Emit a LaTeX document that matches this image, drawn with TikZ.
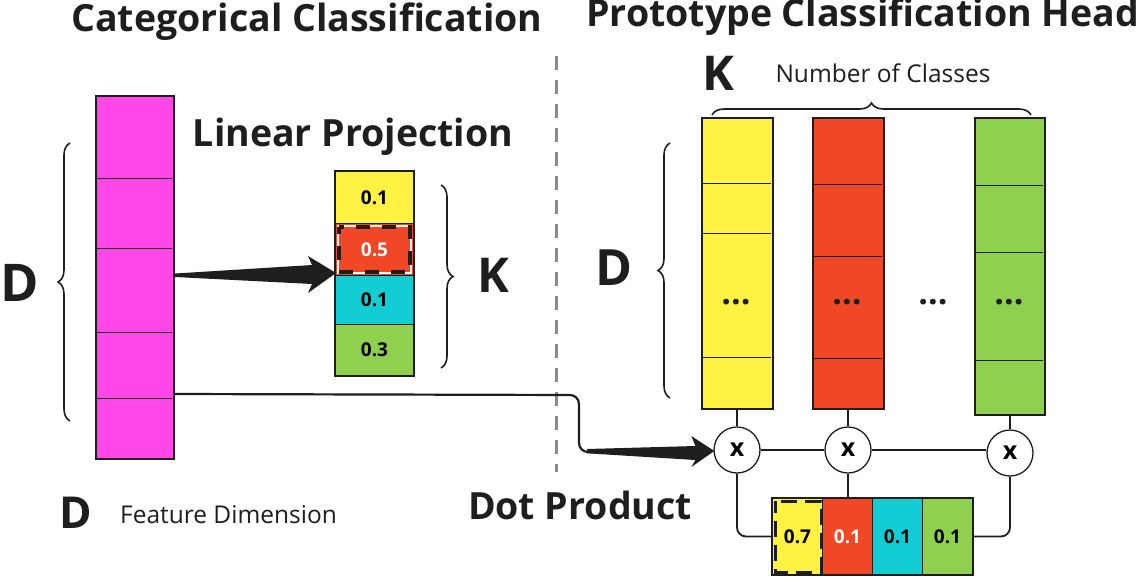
\documentclass[tikz,border=0pt]{standalone}
\usepackage{fontspec}
\setmainfont{Open Sans}
\usetikzlibrary{arrows.meta,calc,decorations.pathreplacing}
\definecolor{ink}{HTML}{1E1E1E}
\definecolor{csep}{HTML}{8A8A8A}
\definecolor{cmag}{HTML}{FF46E6}
\definecolor{cyel}{HTML}{FFF242}
\definecolor{cred}{HTML}{F04827}
\definecolor{ccyan}{HTML}{12CDD4}
\definecolor{cgreen}{HTML}{8FD14F}
\tikzset{
  col/.style={draw=ink, line width=2.2pt, inner sep=0pt, anchor=north west},
  divider/.style={draw=ink, line width=1pt},
  cell/.style={draw=ink, line width=1pt, inner sep=0pt, minimum width=#1, font=\bfseries\fontsize{19}{19}\selectfont},
  conn/.style={draw=ink, line width=2.2pt},
  mult/.style={circle, draw=ink, line width=1.3pt, fill=white, minimum size=46pt, inner sep=0pt, font=\bfseries\fontsize{25}{25}\selectfont},
  title/.style={font=\bfseries\fontsize{37.5}{44}\selectfont, text=ink, inner sep=0pt},
  big/.style={font=\bfseries\fontsize{#1}{#1}\selectfont, text=ink, inner sep=0pt},
  small/.style={font=\fontsize{24.5}{28}\selectfont, text=ink, inner sep=0pt},
  brc/.style={draw=ink, line width=1.6pt, decorate, decoration={brace, amplitude=12pt}},
  dots/.style={font=\bfseries\fontsize{34}{34}\selectfont, text=ink, inner sep=0pt},
}
\begin{document}
\begin{tikzpicture}[x=1pt,y=-1pt]
\useasboundingbox (0,0) rectangle (1137,576);

% titles
\node[title] (t1) at (307,22) {Categorical Classification};
\node[title, anchor=west] (t2) at (586,17) {Prototype Classification Head};
\node[title] (t3) at (353,137) {Linear Projection};
\node[title] (t4) at (580,505) {Dot Product};

% separator
\draw[draw=csep, line width=3pt, dash pattern=on 14pt off 10pt] (556,56) -- (556,472);

% magenta feature vector
\node[col, fill=cmag, minimum width=78pt, minimum height=363pt] (mag) at (95,95) {};
\foreach \yy in {178,248,332,398} \draw[divider] (96,\yy) -- (172,\yy);
\draw[brc] (70,421) -- (70,143);
\node[big=52, anchor=west] (Dl) at (0,283) {D};

% linear projection stack
\node[cell=78pt, fill=cyel, minimum height=52pt, anchor=north west] (p1) at (335,171) {0.1};
\node[cell=78pt, fill=cred, minimum height=52pt, anchor=north west, text=white] (p2) at (335,223) {0.5};
\node[cell=78pt, fill=ccyan, minimum height=49pt, anchor=north west] (p3) at (335,275) {0.1};
\node[cell=78pt, fill=cgreen, minimum height=51pt, anchor=north west] (p4) at (335,324) {0.3};
\draw[white, line width=1.5pt] ([shift={(3,3)}]p2.north west) rectangle ([shift={(-3,-3)}]p2.south east);
\draw[ink, line width=4pt, dash pattern=on 14pt off 12pt, dash phase=7pt] ([shift={(4,4)}]p2.north west) rectangle ([shift={(-4,-4)}]p2.south east);
\draw[ink, line width=2.2pt] (p1.north west) rectangle (p4.south east);
\draw[brc] (441,185) -- (441,368);
\node[big=48] (Kl) at (493,275) {K};

% projection arrow (tapered)
\coordinate (a0) at ($(mag.north east)+(0,180)$);
\coordinate (a1) at ($(p3.north west)+(1,-2)$);
\fill[ink] ($(a0)+(0,-1.5)$) -- ($(a1)+(-24,-8)$) -- ($(a1)+(-28,-17)$) -- (a1)
  -- ($(a1)+(-28,20)$) -- ($(a1)+(-24,11)$) -- ($(a0)+(0,2)$) -- cycle;

% prototype columns
\node[col, fill=cyel, minimum width=71pt, minimum height=291pt] (cy) at (701,117) {};
\foreach \yy in {183,233,357} \draw[divider] (702,\yy) -- (771,\yy);
\node[col, fill=cred, minimum width=71pt, minimum height=291pt] (cr) at (812,117) {};
\foreach \yy in {184,256,358} \draw[divider] (813,\yy) -- (882,\yy);
\node[col, fill=cgreen, minimum width=70pt, minimum height=297pt] (cg) at (974,117) {};
\foreach \yy in {185,252,360} \draw[divider] (975,\yy) -- (1043,\yy);
\node[dots] (d1) at (736,302) {...};
\node[dots] (d2) at (847,302) {...};
\node[dots] (d3) at (933,302) {...};
\node[dots] (d4) at (1009,302) {...};
\draw[brc] (712,115) -- (1031,115);
\node[big=48] (Kt) at (718,73) {K};
\node[small] (ncl) at (883,73) {Number of Classes};
\draw[brc] (670,398) -- (670,143);
\node[big=50] (Dr) at (614,268) {D};

% multiply nodes
\node[mult] (m1) at (737,450) {x};
\node[mult] (m2) at (848,450) {x};
\node[mult] (m3) at (1010,453) {x};
\draw[conn, line width=1.8pt] (cy.south -| m1) -- (m1.north);
\draw[conn, line width=1.8pt] (cr.south -| m2) -- (m2.north);
\draw[conn, line width=1.8pt] (cg.south -| m3) -- (m3.north);
\draw[conn, line width=1.8pt] (m1.east) -- (m2.west);
\draw[conn, line width=1.8pt] (m2.east) -- (m3.west |- m2.east);

% result
\node[cell=50pt, fill=cyel, minimum height=76pt, anchor=north west] (r1) at (772,498) {0.7};
\node[cell=50pt, fill=cred, minimum height=76pt, anchor=north west, text=white] (r2) at (822,498) {0.1};
\node[cell=50pt, fill=ccyan, minimum height=76pt, anchor=north west] (r3) at (872,498) {0.1};
\node[cell=50pt, fill=cgreen, minimum height=76pt, anchor=north west] (r4) at (922,498) {0.1};
\draw[ink, line width=3pt, dash pattern=on 16pt off 8pt, dash phase=4pt] ([shift={(3,3)}]r1.north west) rectangle ([shift={(-2,-3)}]r1.south east);
\draw[ink, line width=2.5pt] (r1.north west) rectangle (r4.south east);
\coordinate (rw) at ($(r1.north west)!0.5!(r1.south west)$);
\coordinate (re) at ($(r4.north east)!0.5!(r4.south east)$);
\draw[conn, line width=1.8pt, rounded corners=9pt] (m1.south) |- (rw);
\draw[conn, line width=1.8pt] (m2.south) -- (m2.south |- r2.north);
\draw[conn, line width=1.8pt, rounded corners=9pt] (m3.south) |- (re);

% feature to dot-product arrow
\coordinate (b0) at ($(mag.north east)+(0,299)$);
\coordinate (bc) at (579,395);
\coordinate (bt) at ($(m1.west)+(1,1)$);
\draw[conn, rounded corners=9pt] (b0) -- (bc) -- ($(bc |- bt)+(0,1)$) -- ($(bt)+(-120,1)$);
\fill[ink] ($(bc |- bt)+(8,-2)$) -- ($(bt)+(-19,-5)$) -- ($(bt)+(-23,-15)$) -- (bt)
  -- ($(bt)+(-23,16)$) -- ($(bt)+(-19,9)$) -- ($(bc |- bt)+(8,2.3)$) -- cycle;

% legend
\node[big=44] (Db) at (76,513) {D};
\node[small, anchor=west] (fd) at (120,515) {Feature Dimension};
\end{tikzpicture}
\end{document}
